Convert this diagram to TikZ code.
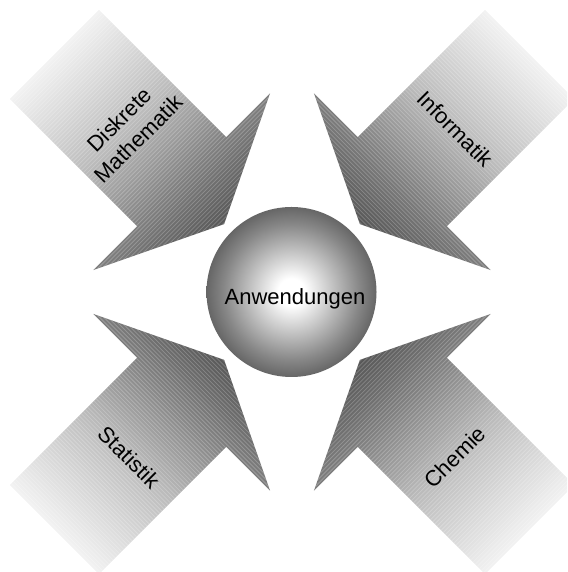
\documentclass[tikz,border=0pt]{standalone}
\usepackage{fontspec}
\setmainfont{Liberation Sans}
\pgfdeclarehorizontalshading{arrowgrad}{100bp}{color(0bp)=(black!66); color(25bp)=(black!66); color(37.5bp)=(black!50); color(53bp)=(black!27); color(75bp)=(black!5); color(100bp)=(black!5)}
\pgfdeclareradialshading{ballgrad}{\pgfpointorigin}{color(0bp)=(white); color(4bp)=(white); color(12.5bp)=(black!25); color(20bp)=(black!47); color(25bp)=(black!60); color(50bp)=(black!60)}
\tikzset{
  arrowfill/.style={shade, shading=arrowgrad},
  stripe/.style={draw=white, opacity=0.22, line width=0.8pt},
  lbl/.style={font=\fontsize{22}{27}\selectfont, text=black, inner sep=0pt, align=center},
  ballstyle/.style={circle, minimum size=170pt, inner sep=0pt, shade, shading=ballgrad}
}
\begin{document}
\begin{tikzpicture}[x=1pt,y=1pt]
\path[use as bounding box] (0,0) rectangle (567,572);
\clip (0,0) rectangle (567,572);
\foreach \ang in {45,135,225,315} {
  \begin{scope}[transform canvas={shift={(292pt,280pt)},rotate=\ang}]
    \path[arrowfill] (96,0) -- (156,125) -- (156,63) -- (336,63) -- (336,-63) -- (156,-63) -- (156,-125) -- cycle;
    \begin{scope}
      \clip (96,0) -- (156,125) -- (156,63) -- (336,63) -- (336,-63) -- (156,-63) -- (156,-125) -- cycle;
      \foreach \s in {97,100,...,337} \draw[stripe] (\s,-130) -- (\s,130);
    \end{scope}
  \end{scope}
}
\node[ballstyle] (ball) at (291.5,280) {};
\node[lbl, anchor=base] (anw) at (295,267) {Anwendungen};
\node[lbl, rotate=45] (dm) at (129,443) {Diskrete\\Mathematik};
\node[lbl, rotate=-45] (inf) at (455,443) {Informatik};
\node[lbl, rotate=-45] (stat) at (129,115) {Statistik};
\node[lbl, rotate=45] (chem) at (455,115) {Chemie};
\end{tikzpicture}
\end{document}
